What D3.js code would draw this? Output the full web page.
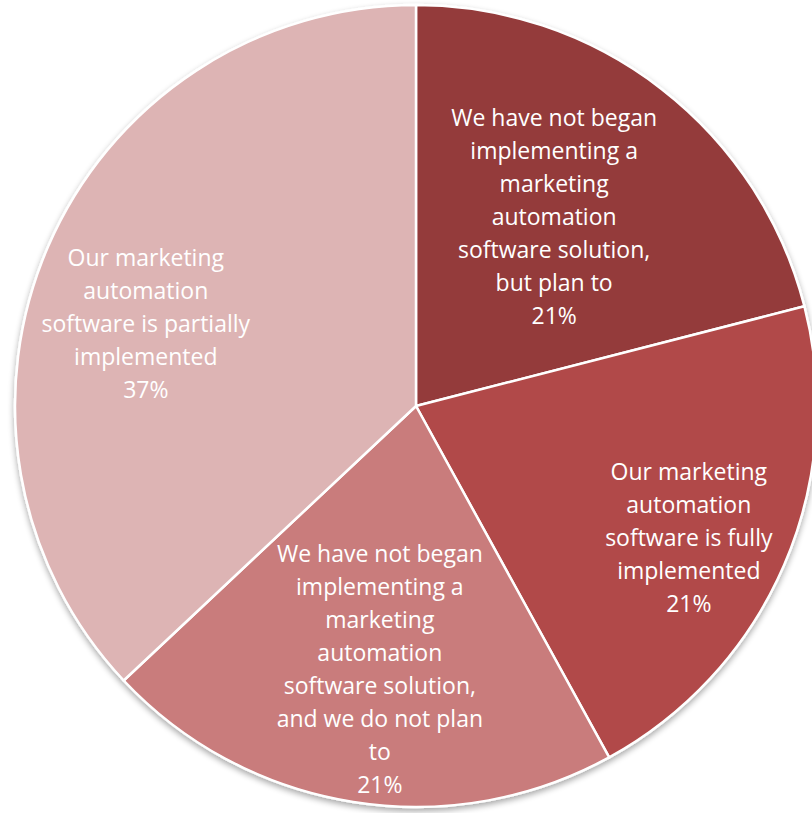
<!DOCTYPE html>
<html>
<head>
<meta charset="utf-8">
<script src="https://cdn.jsdelivr.net/npm/d3@7"></script>
<style>
  html, body { margin: 0; padding: 0; background: #ffffff; }
  svg { display: block; }
</style>
</head>
<body>
<svg id="chart" width="812" height="813"></svg>
<script>
// Marketing automation adoption status
const categories = [
  "We have not began implementing a marketing automation software solution, but plan to",
  "Our marketing automation software is fully implemented",
  "We have not began implementing a marketing automation software solution, and we do not plan to",
  "Our marketing automation software is partially implemented"
];
const values = [21, 21, 21, 37];
const labelLines = [
  ["We have not began", "implementing a", "marketing", "automation", "software solution,", "but plan to"],
  ["Our marketing", "automation", "software is fully", "implemented"],
  ["We have not began", "implementing a", "marketing", "automation", "software solution,", "and we do not plan", "to"],
  ["Our marketing", "automation", "software is partially", "implemented"]
];
const colors = ["#943a3b", "#b14a48", "#c97b7b", "#ddb4b4"];

const svg = d3.select("#chart");
const cx = 416, cy = 406, radius = 401;

const defs = svg.append("defs");
const shadow = defs.append("filter").attr("id", "shadow")
  .attr("x", "-10%").attr("y", "-10%").attr("width", "120%").attr("height", "120%");
shadow.append("feGaussianBlur").attr("in", "SourceAlpha").attr("stdDeviation", 3);
shadow.append("feOffset").attr("dx", 0).attr("dy", 3).attr("result", "blur");
shadow.append("feComponentTransfer").append("feFuncA").attr("type", "linear").attr("slope", 0.35);
const merge = shadow.append("feMerge");
merge.append("feMergeNode");
merge.append("feMergeNode").attr("in", "SourceGraphic");

const pie = d3.pie().sort(null).value(d => d)(values);
const arc = d3.arc().innerRadius(0).outerRadius(radius);

const g = svg.append("g").attr("transform", `translate(${cx},${cy})`);

g.append("g").attr("filter", "url(#shadow)")
  .selectAll("path")
  .data(pie)
  .join("path")
  .attr("d", arc)
  .attr("fill", (d, i) => colors[i])
  .attr("stroke", "#ffffff")
  .attr("stroke-width", 2.5)
  .attr("stroke-linejoin", "round");

// label placement: angular offset (rad) and distance as a share of the radius
const labelPlace = [
  { da: -0.03, k: 0.585 },
  { da: 0.04, k: 0.755 },
  { da: -0.02, k: 0.66 },
  { da: -0.11, k: 0.705 }
];
const lineH = 33;

const labels = g.append("g")
  .attr("font-family", "'Open Sans', Lato, sans-serif")
  .attr("font-size", 23)
  .attr("fill", "#ffffff")
  .attr("text-anchor", "middle");

pie.forEach((d, i) => {
  const mid = (d.startAngle + d.endAngle) / 2 + labelPlace[i].da;
  const r = radius * labelPlace[i].k;
  const x = Math.sin(mid) * r;
  const y = -Math.cos(mid) * r;
  const lines = labelLines[i].concat([d3.format(".0f")(d.data) + "%"]);
  const top = y - (lines.length - 1) * lineH / 2;
  const t = labels.append("text")
    .attr("x", x).attr("y", top)
    .attr("dominant-baseline", "central");
  lines.forEach((ln, j) => {
    t.append("tspan").attr("x", x).attr("y", top + j * lineH).text(ln);
  });
});
</script>
</body>
</html>
